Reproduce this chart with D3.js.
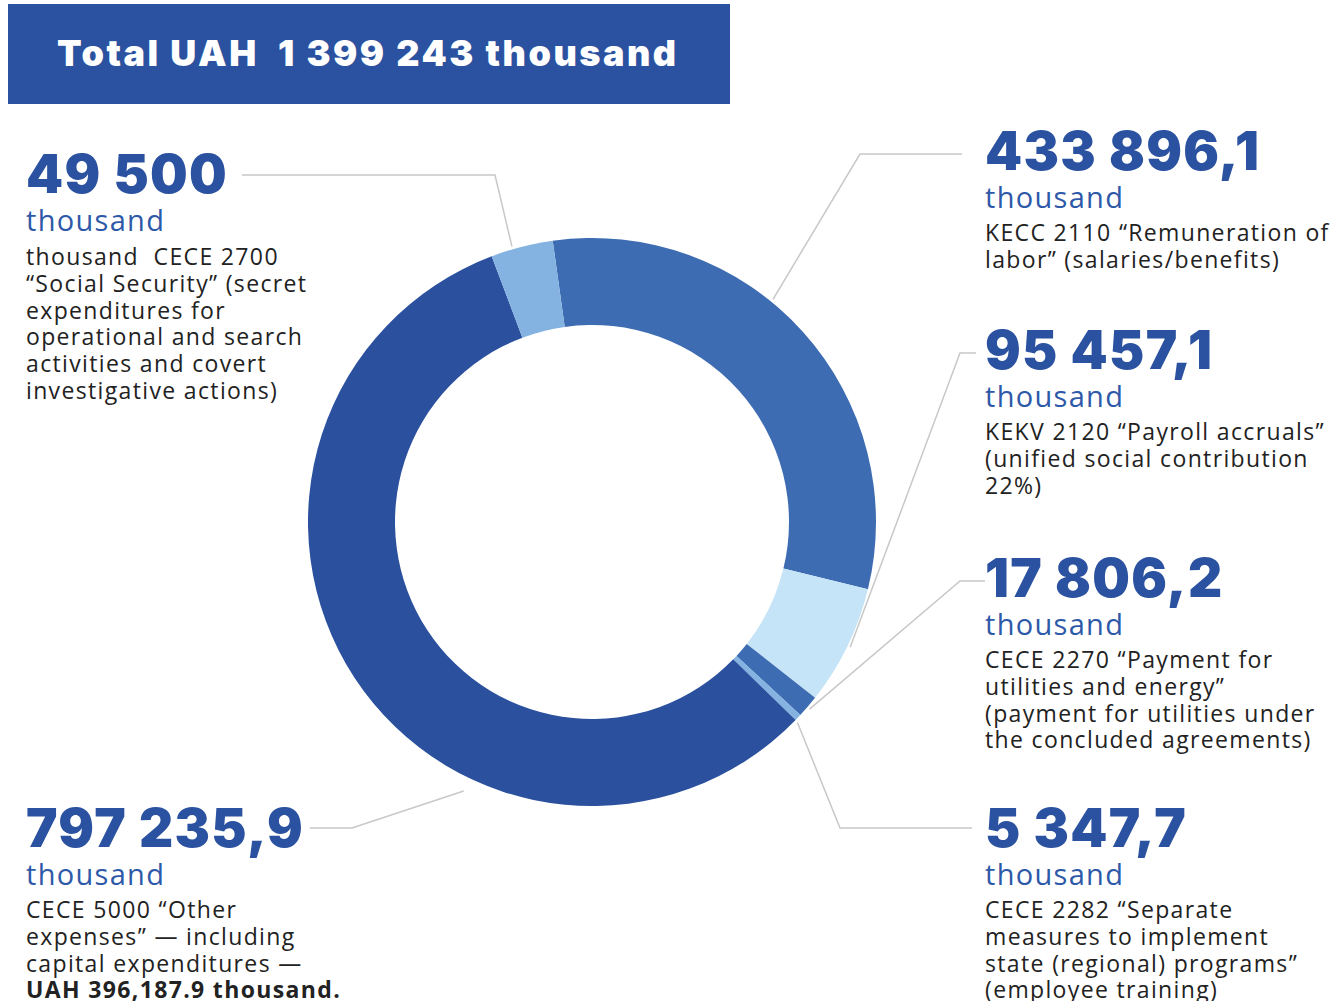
<!DOCTYPE html>
<html>
<head>
<meta charset="utf-8">
<script src="https://cdn.jsdelivr.net/npm/d3@7"></script>
<style>
  html, body { margin: 0; padding: 0; background: #fff; }
  svg { display: block; }
  text { white-space: pre; }
  .big { font-family: Inter, sans-serif; font-weight: 900; fill: #2b52a0; letter-spacing: 1.3px; }
  .title { letter-spacing: 2.5px; }
  .unit { font-family: "Open Sans", sans-serif; font-weight: 500; fill: #2e59a8; letter-spacing: 1.3px; }
  .desc { font-family: "Open Sans", sans-serif; fill: #222; letter-spacing: 1.35px; }
</style>
</head>
<body>
<svg id="chart" width="1342" height="1001"></svg>
<script>
// data
const values = [433896.1, 95457.1, 17806.2, 5347.7, 797235.9, 49500];
const valueLabels = ["433 896,1", "95 457,1", "17 806,2", "5 347,7", "797 235,9", "49 500"];
const colors = ["#3e6cb2", "#c5e4f7", "#3e6cb2", "#84b3e1", "#2a509e", "#84b3e1"];
const descriptions = [
  ["KECC 2110 “Remuneration of", "labor” (salaries/benefits)"],
  ["KEKV 2120 “Payroll accruals”", "(unified social contribution", "22%)"],
  ["CECE 2270 “Payment for", "utilities and energy”", "(payment for utilities under", "the concluded agreements)"],
  ["CECE 2282 “Separate", "measures to implement", "state (regional) programs”", "(employee training)"],
  ["CECE 5000 “Other", "expenses” — including", "capital expenditures —", "UAH 396,187.9 thousand."],
  ["thousand  CECE 2700", "“Social Security” (secret", "expenditures for", "operational and search", "activities and covert", "investigative actions)"]
];
const totalTitle = "Total UAH  1 399 243 thousand";

// label layout: text block origin (x, number baseline), elbow, anchor angle on ring
const layout = [
  { x: 985, y: 170, elbowX: 860, lineY: 154, lineX: 962, angle: 39.1 },
  { x: 985, y: 369, elbowX: 960, lineY: 353, lineX: 976, angle: 115.9 },
  { x: 985, y: 597, elbowX: 960, lineY: 581, lineX: 985, angle: 130.7 },
  { x: 985, y: 847, elbowX: 840, lineY: 828, lineX: 972, angle: 134.3 },
  { x: 26, y: 847, elbowX: 352, lineY: 828, lineX: 310, angle: 205.5, anchorR: 298 },
  { x: 26, y: 193, elbowX: 495, lineY: 175, lineX: 242, angle: -16.2 }
];

const svg = d3.select('#chart');
const cx = 592, cy = 522;
const outerR = 284, innerR = 197;

// header
svg.append('rect')
  .attr('x', 8).attr('y', 4)
  .attr('width', 722).attr('height', 100)
  .attr('fill', '#2b52a0');
svg.append('text')
  .attr('class', 'big title')
  .attr('x', 57).attr('y', 66)
  .style('font-size', '36px')
  .style('fill', '#fff')
  .text(totalTitle);

// donut
const startA = -7.95 * Math.PI / 180;
const pie = d3.pie().sort(null).startAngle(startA).endAngle(startA + 2 * Math.PI);
const arc = d3.arc().innerRadius(innerR).outerRadius(outerR);
const arcs = pie(values);

const g = svg.append('g').attr('transform', `translate(${cx},${cy})`);
g.selectAll('path')
  .data(arcs)
  .join('path')
  .attr('d', arc)
  .attr('fill', (d, i) => colors[i]);

// leader lines
const lines = svg.append('g')
  .attr('fill', 'none')
  .attr('stroke', '#c8c8c8')
  .attr('stroke-width', 1.5);
layout.forEach((l, i) => {
  const a = l.angle * Math.PI / 180;
  const r = l.anchorR || 287;
  const ax = cx + r * Math.sin(a);
  const ay = cy - r * Math.cos(a);
  lines.append('polyline')
    .attr('points', `${l.lineX},${l.lineY} ${l.elbowX},${l.lineY} ${ax},${ay}`);
});

// labels
layout.forEach((l, i) => {
  const t = svg.append('g');
  t.append('text')
    .attr('class', 'big')
    .attr('x', l.x).attr('y', l.y)
    .style('font-size', '53px')
    .text(valueLabels[i]);
  t.append('text')
    .attr('class', 'unit')
    .attr('x', l.x).attr('y', l.y + 38)
    .style('font-size', '29px')
    .text('thousand');
  const d = descriptions[i];
  const first = l.y + (i === 5 ? 72 : 71);
  d.forEach((line, k) => {
    t.append('text')
      .attr('class', 'desc')
      .attr('x', l.x).attr('y', first + k * 26.8)
      .style('font-size', '23px')
      .style('font-weight', (i === 4 && k === d.length - 1) ? 700 : 400)
      .text(line);
  });
});
</script>
</body>
</html>
